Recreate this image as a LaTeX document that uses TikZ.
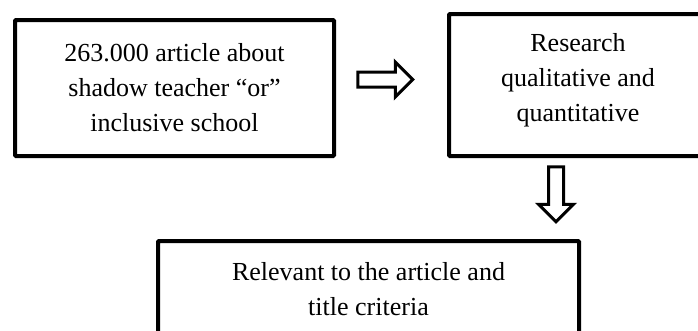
\documentclass[tikz,border=0pt]{standalone}
\usepackage{fontspec}
\setmainfont{Liberation Serif}
\usepackage{tikz}
\usetikzlibrary{shapes.arrows}

\begin{document}
\begin{tikzpicture}[x=1pt,y=-1pt,line width=4pt,font=\fontsize{26}{35}\selectfont]

	\tikzstyle{every node}=[inner sep=0pt]
	\tikzstyle{box}=[draw=black,fill=white,align=center,rounded corners=1pt]
	\tikzstyle{fatarrow}=[single arrow,draw=black,fill=white,line width=3pt,sharp corners,inner sep=6pt,
		minimum height=55pt,minimum width=32pt,single arrow head extend=10pt]

	\useasboundingbox (0,0) rectangle (698,330);

	\node[box,minimum width=319pt,minimum height=136pt] (search) at (174.5,88)
		{263.000 article about\\shadow teacher “or”\\inclusive school};
	\node[fatarrow] (toright) [right of=search,node distance=207pt,yshift=8.5pt] {};
	\node[box,minimum width=258pt,minimum height=142pt] (research) [right of=search,node distance=403.5pt,yshift=3pt]
		{Research\\qualitative and\\quantitative\\[-19pt]\mbox{}};
	\node[fatarrow,shape border rotate=270] (todown) [below of=research,node distance=105.5pt,xshift=-22pt] {};
	\node[box,minimum width=421pt,minimum height=96pt] (relevant) [below of=todown,node distance=98.5pt,xshift=-187.5pt]
		{Relevant to the article and\\title criteria};

\end{tikzpicture}
\end{document}
